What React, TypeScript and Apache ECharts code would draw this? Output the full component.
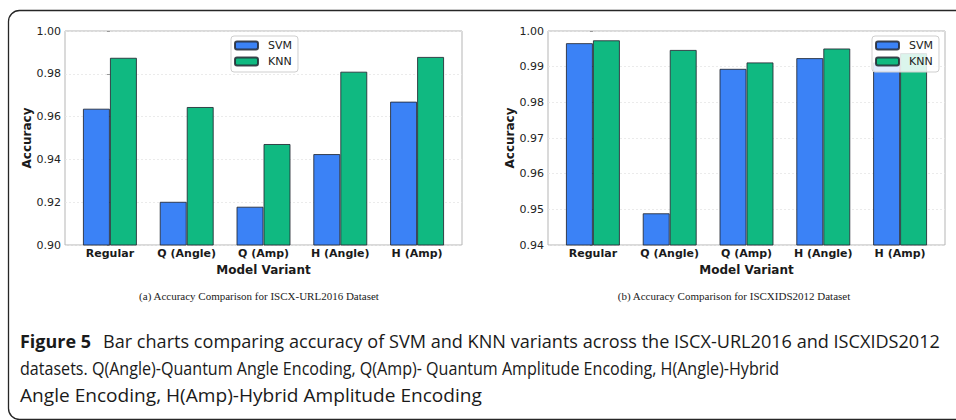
import React, { useEffect, useRef } from 'react';
import * as echarts from 'echarts';

const categories = ['Regular', 'Q (Angle)', 'Q (Amp)', 'H (Angle)', 'H (Amp)'];
const seriesNames = ['SVM', 'KNN'];
const urlSvm = [0.9637, 0.9202, 0.9179, 0.9425, 0.967];
const urlKnn = [0.9875, 0.9645, 0.9472, 0.981, 0.9879];
const idsSvm = [0.9966, 0.9489, 0.9894, 0.9924, 0.9912];
const idsKnn = [0.9974, 0.9947, 0.9912, 0.9951, 0.9938];
const urlAxis = { min: 0.9, max: 1.0, interval: 0.02 };
const idsAxis = { min: 0.94, max: 1.0, interval: 0.01 };
const yName = 'Accuracy';
const xName = 'Model Variant';
const captionA = '(a) Accuracy Comparison for ISCX-URL2016 Dataset';
const captionB = '(b) Accuracy Comparison for ISCXIDS2012 Dataset';
const figLabel = 'Figure 5';
const figLines = [
  'Bar charts comparing accuracy of SVM and KNN variants across the ISCX-URL2016 and ISCXIDS2012',
  'datasets. Q(Angle)-Quantum Angle Encoding, Q(Amp)- Quantum Amplitude Encoding, H(Angle)-Hybrid',
  'Angle Encoding, H(Amp)-Hybrid Amplitude Encoding',
];

const SVM_COLOR = '#3b82f6';
const KNN_COLOR = '#10b981';
const AX_FONT = '"DejaVu Sans", sans-serif';
const CAP_FONT = '"Open Sans", "Noto Sans", sans-serif';

export default function App() {
  const ref = useRef<HTMLDivElement>(null);
  useEffect(() => {
    if (!ref.current) return;
    const chart = echarts.init(ref.current, null, { renderer: 'svg' });

    const ctx = document.createElement('canvas').getContext('2d')!;
    const measure = (t: string, f: string) => {
      ctx.font = f;
      return ctx.measureText(t).width;
    };
    const capSize = 18;
    const boldW = measure(figLabel, `bold ${capSize}px ${CAP_FONT}`);
    const lineStarts = [103, 20, 20];
    const lineEnds = [940, 780, 482];
    const lineScales = figLines.map(
      (t, i) => (lineEnds[i] - lineStarts[i]) / measure(t, `${capSize}px ${CAP_FONT}`)
    );
    const boldScale = 71 / boldW;

    const grids = [
      { left: 65, top: 31, width: 397, height: 214 },
      { left: 548, top: 31, width: 397, height: 214 },
    ];
    const axesY = [urlAxis, idsAxis];
    const data = [
      [urlSvm, urlKnn],
      [idsSvm, idsKnn],
    ];

    const xAxis: any[] = [];
    const yAxis: any[] = [];
    const series: any[] = [];
    grids.forEach((g, gi) => {
      xAxis.push({
        type: 'value',
        gridIndex: gi,
        min: -0.585,
        max: 4.585,
        splitLine: { show: false },
        axisLine: { show: false },
        axisTick: { show: false },
        axisLabel: {
          customValues: categories.map((_, i) => i),
          formatter: (v: number) => categories[Math.round(v)] ?? '',
          fontFamily: AX_FONT,
          fontWeight: 'bold',
          fontSize: 11,
          color: '#1a1a1a',
          margin: 3,
        },
        name: xName,
        nameLocation: 'middle',
        nameGap: 13,
        nameTextStyle: { fontFamily: AX_FONT, fontWeight: 'bold', fontSize: 12, color: '#1a1a1a' },
      });
      yAxis.push({
        type: 'value',
        gridIndex: gi,
        min: axesY[gi].min,
        max: axesY[gi].max,
        interval: axesY[gi].interval,
        axisLine: { show: false },
        axisTick: { show: true, length: 3, lineStyle: { color: '#999' } },
        axisLabel: {
          formatter: (v: number) => v.toFixed(2),
          fontFamily: AX_FONT,
          fontSize: 11,
          color: '#222',
          margin: 4,
        },
        splitLine: { show: true, lineStyle: { color: '#e6e6e6', type: [2, 2], width: 0.8 } },
        name: yName,
        nameLocation: 'middle',
        nameGap: 30,
        nameTextStyle: { fontFamily: AX_FONT, fontWeight: 'bold', fontSize: 12, color: '#1a1a1a' },
      });
      seriesNames.forEach((name, si) => {
        series.push({
          type: 'bar',
          name,
          xAxisIndex: gi,
          yAxisIndex: gi,
          barWidth: 27,
          barGap: '0%',
          itemStyle: {
            color: si === 0 ? SVM_COLOR : KNN_COLOR,
            borderColor: 'rgba(35,40,50,0.85)',
            borderWidth: 1,
          },
          data: data[gi][si].map((v, i) => [i, v]),
        });
      });
    });

    const legendBase = {
      orient: 'vertical',
      data: seriesNames,
      top: 36,
      itemWidth: 23,
      itemHeight: 8,
      itemGap: 3,
      padding: [3, 6, 4, 3],
      backgroundColor: 'rgba(255,255,255,0.85)',
      borderColor: '#cfcfcf',
      borderWidth: 1,
      borderRadius: 3,
      textStyle: { fontFamily: AX_FONT, fontSize: 11, color: '#222', lineHeight: 13, padding: [0, 0, 0, 5] },
    };

    const capStyle = (weight: string) => ({
      fontFamily: CAP_FONT,
      fontSize: capSize,
      fontWeight: weight,
      fill: '#1a1a1a',
      verticalAlign: 'middle',
      align: 'left',
    });
    const lineYs = [341, 368, 395];

    const graphic: any[] = [
      {
        type: 'rect',
        shape: { x: 8.5, y: 10.5, width: 970, height: 409, r: 11 },
        style: { fill: 'none', stroke: '#262626', lineWidth: 1.3 },
        silent: true,
      },
      {
        type: 'text',
        x: 259,
        y: 296,
        style: { text: captionA, fontFamily: '"Liberation Serif", serif', fontSize: 11, fill: '#222', align: 'center', verticalAlign: 'middle' },
      },
      {
        type: 'text',
        x: 734,
        y: 296,
        style: { text: captionB, fontFamily: '"Liberation Serif", serif', fontSize: 11, fill: '#222', align: 'center', verticalAlign: 'middle' },
      },
      {
        type: 'text',
        x: 20,
        y: lineYs[0],
        scaleX: boldScale,
        style: { text: figLabel, ...capStyle('bold') },
      },
      ...figLines.map((t, i) => ({
        type: 'text',
        x: lineStarts[i],
        y: lineYs[i],
        scaleX: lineScales[i],
        style: { text: t, ...capStyle('normal') },
      })),
    ];

    chart.setOption({
      animation: false,
      backgroundColor: '#ffffff',
      grid: grids.map((g) => ({ ...g, show: true, borderColor: '#b5b5b5', borderWidth: 1, backgroundColor: 'transparent' })),
      xAxis,
      yAxis,
      series,
      legend: [
        { ...legendBase, left: 231 },
        { ...legendBase, left: 872 },
      ],
      graphic,
    });
    return () => chart.dispose();
  }, []);
  return (
    <div
      ref={ref}
      style={{ position: 'fixed', left: 0, top: 0, width: 956, height: 420, background: '#fff' }}
    />
  );
}
